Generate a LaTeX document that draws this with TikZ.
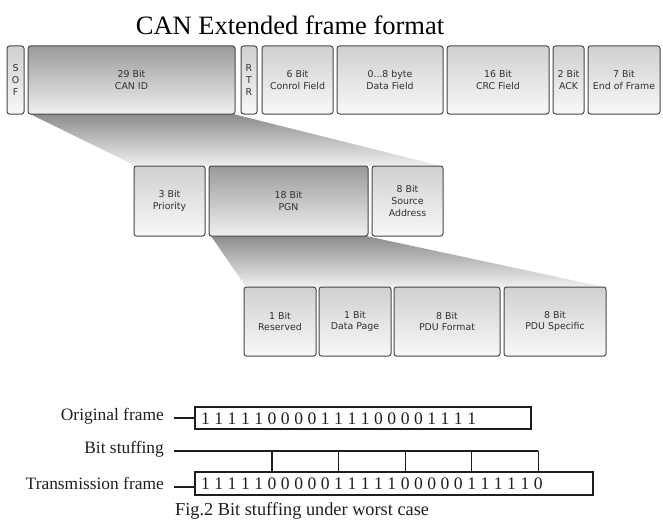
\documentclass[tikz,border=0pt]{standalone}
\usepackage{fontspec}
\setmainfont{Liberation Serif}
\newfontfamily\boxfont{DejaVu Sans}
\usetikzlibrary{backgrounds}
\definecolor{bd}{HTML}{474747}
\definecolor{ltop}{HTML}{D0D0D0}
\definecolor{lbot}{HTML}{F8F8F8}
\definecolor{dtop}{HTML}{9A9A9A}
\definecolor{dbot}{HTML}{F0F0F0}
\definecolor{ttop}{HTML}{8C8C8C}
\definecolor{tbot}{HTML}{F0F0F0}
\definecolor{txt}{HTML}{303030}
\definecolor{ink}{HTML}{1E1E1E}
\tikzset{
 fld/.style={draw=bd, line width=1pt, rounded corners=2.5pt, top color=ltop, bottom color=lbot,
   inner sep=0pt, outer sep=0pt, align=center, text=txt,
   font=\boxfont\fontsize{9.4}{11.8}\selectfont, anchor=north west},
 fldd/.style={fld, top color=dtop, bottom color=dbot},
 lbl/.style={font=\fontsize{17.4}{20}\selectfont, inner sep=0pt, anchor=mid east, text=ink},
 bit/.style={font=\fontsize{17.6}{20}\selectfont, inner sep=0pt, anchor=base, text=ink},
 frm/.style={draw=ink, line width=1.3pt, inner sep=0pt, outer sep=0pt, anchor=north west},
 wire/.style={draw=ink, line width=1.3pt},
 fan/.style={top color=ttop, bottom color=tbot, draw=none}
}
\begin{document}
\begin{tikzpicture}[x=1pt,y=-1pt]
\useasboundingbox (0,0) rectangle (663,519);
% title
\node[font=\fontsize{26.5}{30}\selectfont, anchor=base, inner sep=0pt] (title) at (290,34.5) {CAN Extended frame format};
% row 1
\node[fld, minimum width=17pt, minimum height=68pt] (sof) at (7,46) {S\\O\\F};
\node[fldd, minimum width=207pt, minimum height=68pt] (canid) at (28,46) {29 Bit\\CAN ID};
\node[fld, minimum width=16pt, minimum height=68pt] (rtr) at (241,46) {R\\T\\R};
\node[fld, minimum width=71pt, minimum height=68pt] (ctrl) at (262,46) {6 Bit\\Conrol Field};
\node[fld, minimum width=106pt, minimum height=68pt] (data) at (337,46) {0...8 byte\\Data Field};
\node[fld, minimum width=102pt, minimum height=68pt] (crc) at (447,46) {16 Bit\\CRC Field};
\node[fld, minimum width=31pt, minimum height=68pt] (ack) at (553,46) {2 Bit\\ACK};
\node[fld, minimum width=72pt, minimum height=68pt] (eof) at (588,46) {7 Bit\\End of Frame};
% row 2
\node[fld, minimum width=71pt, minimum height=70pt] (prio) at (134,166) {3 Bit\\Priority};
\node[fldd, minimum width=159pt, minimum height=70pt] (pgn) at (209,166) {18 Bit\\PGN};
\node[fld, minimum width=71pt, minimum height=70pt] (src) at (372,166) {8 Bit\\Source\\Address};
% row 3
\node[fld, minimum width=72pt, minimum height=69pt] (res) at (244,287) {1 Bit\\Reserved};
\node[fld, minimum width=72pt, minimum height=69pt] (dp) at (319,287) {1 Bit\\Data Page};
\node[fld, minimum width=106pt, minimum height=69pt] (pduf) at (394,287) {8 Bit\\PDU Format};
\node[fld, minimum width=102pt, minimum height=69pt] (pdus) at (504,287) {8 Bit\\PDU Specific};
% fans
\begin{scope}[on background layer]
\shade[fan] ([xshift=2pt]canid.south west) -- ([xshift=-2pt]canid.south east) -- ([xshift=-2pt]src.north east) -- ([xshift=2pt]prio.north west) -- cycle;
\shade[fan] ([xshift=2pt]pgn.south west) -- ([xshift=-2pt]pgn.south east) -- ([xshift=-2pt]pdus.north east) -- ([xshift=2pt]res.north west) -- cycle;
\end{scope}
% bit stuffing part
\node[lbl] (lorig) at (164,418) {Original frame};
\node[lbl] (lbs) at (164,451) {Bit stuffing};
\node[lbl] (ltx) at (164,487) {Transmission frame};
\node[frm, minimum width=336pt, minimum height=22pt] (orig) at (195,407) {};
\node[frm, minimum width=398pt, minimum height=23pt] (tx) at (195,472) {};
\foreach \d [count=\i from 0] in {1,1,1,1,1,0,0,0,0,1,1,1,1,0,0,0,0,1,1,1,1}
  \node[bit] (o\i) at ({205.5+13.31*\i},424) {\d};
\foreach \d [count=\i from 0] in {1,1,1,1,1,0,0,0,0,0,1,1,1,1,1,0,0,0,0,0,1,1,1,1,1,0}
  \node[bit] (t\i) at ({205.5+13.31*\i},489.5) {\d};
\coordinate (co) at (174,418);
\coordinate (cb) at (174,451);
\coordinate (ct) at (174,487);
\draw[wire] (co) -- (orig.west);
\draw[wire] (ct) -- (ct -| tx.west);
\foreach \k in {5,10,15,20,25}
  \coordinate (k\k) at ({205.5+13.31*\k},451);
\draw[wire] (cb) -- (k25);
\foreach \k in {5,10,15,20,25}
  \draw[wire] (k\k) -- (k\k |- tx.north);
\node[font=\fontsize{18.3}{20}\selectfont, anchor=base west, inner sep=0pt, text=ink] (cap) at (175,515.5) {Fig.2 Bit stuffing under worst case};
\end{tikzpicture}
\end{document}
